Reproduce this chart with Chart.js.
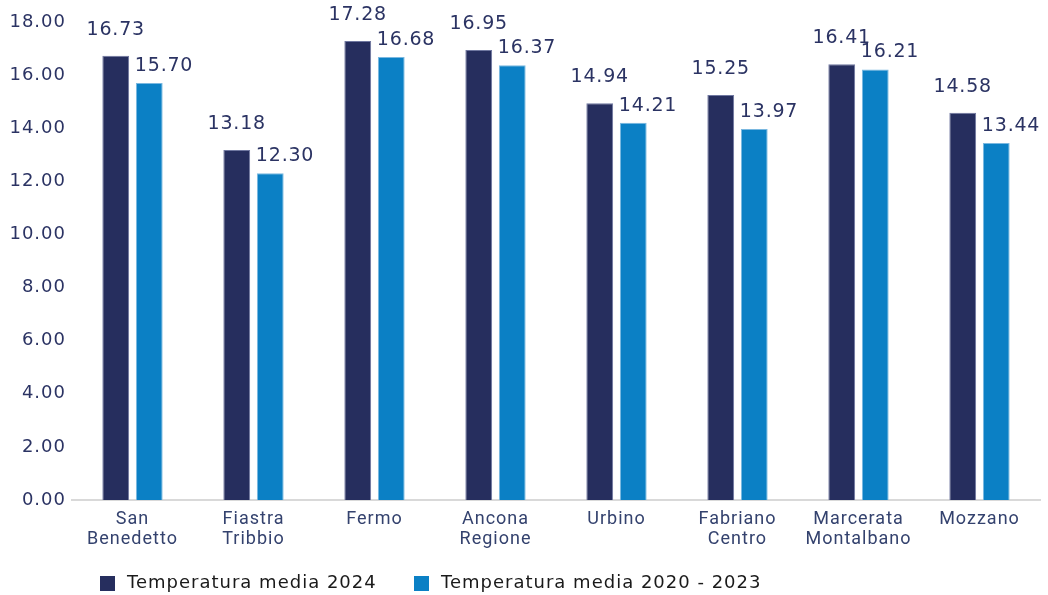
<!DOCTYPE html>
<html>
<head>
<meta charset="utf-8">
<script src="https://cdn.jsdelivr.net/npm/chart.js@4"></script>
<style>
  html, body { margin: 0; padding: 0; background: #fff; }
  #wrap { width: 1048px; height: 595px; }
</style>
</head>
<body>
<div id="wrap"><canvas id="chart" width="1048" height="595"></canvas></div>
<script>
const stations = [
    ['San', 'Benedetto'], ['Fiastra', 'Tribbio'], 'Fermo', ['Ancona', 'Regione'],
    'Urbino', ['Fabriano', 'Centro'], ['Marcerata', 'Montalbano'], 'Mozzano'
];
const temp2024 = [16.73, 13.18, 17.28, 16.95, 14.94, 15.25, 16.41, 14.58];
const temp2020_2023 = [15.70, 12.30, 16.68, 16.37, 14.21, 13.97, 16.21, 13.44];
const seriesNames = ['Temperatura media 2024', 'Temperatura media 2020 - 2023'];
const yTicks = [0, 2, 4, 6, 8, 10, 12, 14, 16, 18];

const NAVY = '#262e5e';
const BLUE = '#0b80c5';
const TEXT = '#2b3363';

// a little tracking on all axis text
const tracking = {
    id: 'tracking',
    beforeDraw(chart) { chart.ctx.letterSpacing = '1px'; },
    afterDraw(chart) { chart.ctx.letterSpacing = '0px'; }
};

// value labels above each bar: 2024 centred, 2020-2023 flush with bar's left edge
const valueLabels = {
    id: 'valueLabels',
    afterDatasetsDraw(chart) {
        const ctx = chart.ctx;
        ctx.save();
        ctx.letterSpacing = '0.8px';
        ctx.font = '19px "DejaVu Sans"';
        ctx.fillStyle = TEXT;
        ctx.textBaseline = 'middle';
        chart.data.datasets.forEach((ds, i) => {
            chart.getDatasetMeta(i).data.forEach((bar, j) => {
                const txt = ds.data[j].toFixed(2);
                if (i === 0) {
                    ctx.textAlign = 'center';
                    ctx.fillText(txt, bar.x, bar.y - 26);
                } else {
                    ctx.textAlign = 'left';
                    ctx.fillText(txt, bar.x - bar.width / 2 - 1, bar.y - 17);
                }
            });
        });
        ctx.restore();
    }
};

// legend along the bottom
const bottomLegend = {
    id: 'bottomLegend',
    afterDraw(chart) {
        const ctx = chart.ctx;
        const starts = [100, 414];
        const y = 583;
        ctx.save();
        ctx.letterSpacing = '1px';
        ctx.font = '18px "DejaVu Sans"';
        ctx.textBaseline = 'middle';
        ctx.textAlign = 'left';
        chart.data.datasets.forEach((ds, i) => {
            ctx.fillStyle = ds.backgroundColor;
            ctx.fillRect(starts[i], y - 7, 15, 15);
            ctx.fillStyle = '#1a1a1a';
            ctx.fillText(ds.label, starts[i] + 27, y);
        });
        ctx.restore();
    }
};

new Chart(document.getElementById('chart'), {
    type: 'bar',
    data: {
        labels: stations,
        datasets: [
            { label: seriesNames[0], data: temp2024, backgroundColor: NAVY, borderColor: '#6f77a0', borderWidth: 1 },
            { label: seriesNames[1], data: temp2020_2023, backgroundColor: BLUE, borderColor: '#7ab8e0', borderWidth: 1 }
        ]
    },
    options: {
        responsive: false,
        animation: false,
        categoryPercentage: 0.554,
        barPercentage: 0.8,
        layout: { padding: { top: 22, right: 8, left: 0, bottom: 35 } },
        plugins: {
            legend: { display: false },
            tooltip: { enabled: false }
        },
        scales: {
            x: {
                grid: { display: false, drawTicks: false },
                border: { color: '#d9d9d9', width: 2 },
                ticks: {
                    color: '#34426e',
                    font: { family: 'Roboto', size: 18, lineHeight: 1.1 },
                    padding: 10,
                    maxRotation: 0,
                    autoSkip: false
                },
                afterFit(scale) { scale.height = 60; }
            },
            y: {
                min: 0,
                max: 18,
                afterBuildTicks(scale) { scale.ticks = yTicks.map(v => ({ value: v })); },
                grid: { display: false, drawTicks: false },
                border: { display: false },
                ticks: {
                    color: TEXT,
                    font: { family: 'DejaVu Sans', size: 18 },
                    padding: 6,
                    callback: v => v.toFixed(2)
                },
                afterFit(scale) { scale.width = 72; }
            }
        }
    },
    plugins: [tracking, valueLabels, bottomLegend]
});
</script>
</body>
</html>
